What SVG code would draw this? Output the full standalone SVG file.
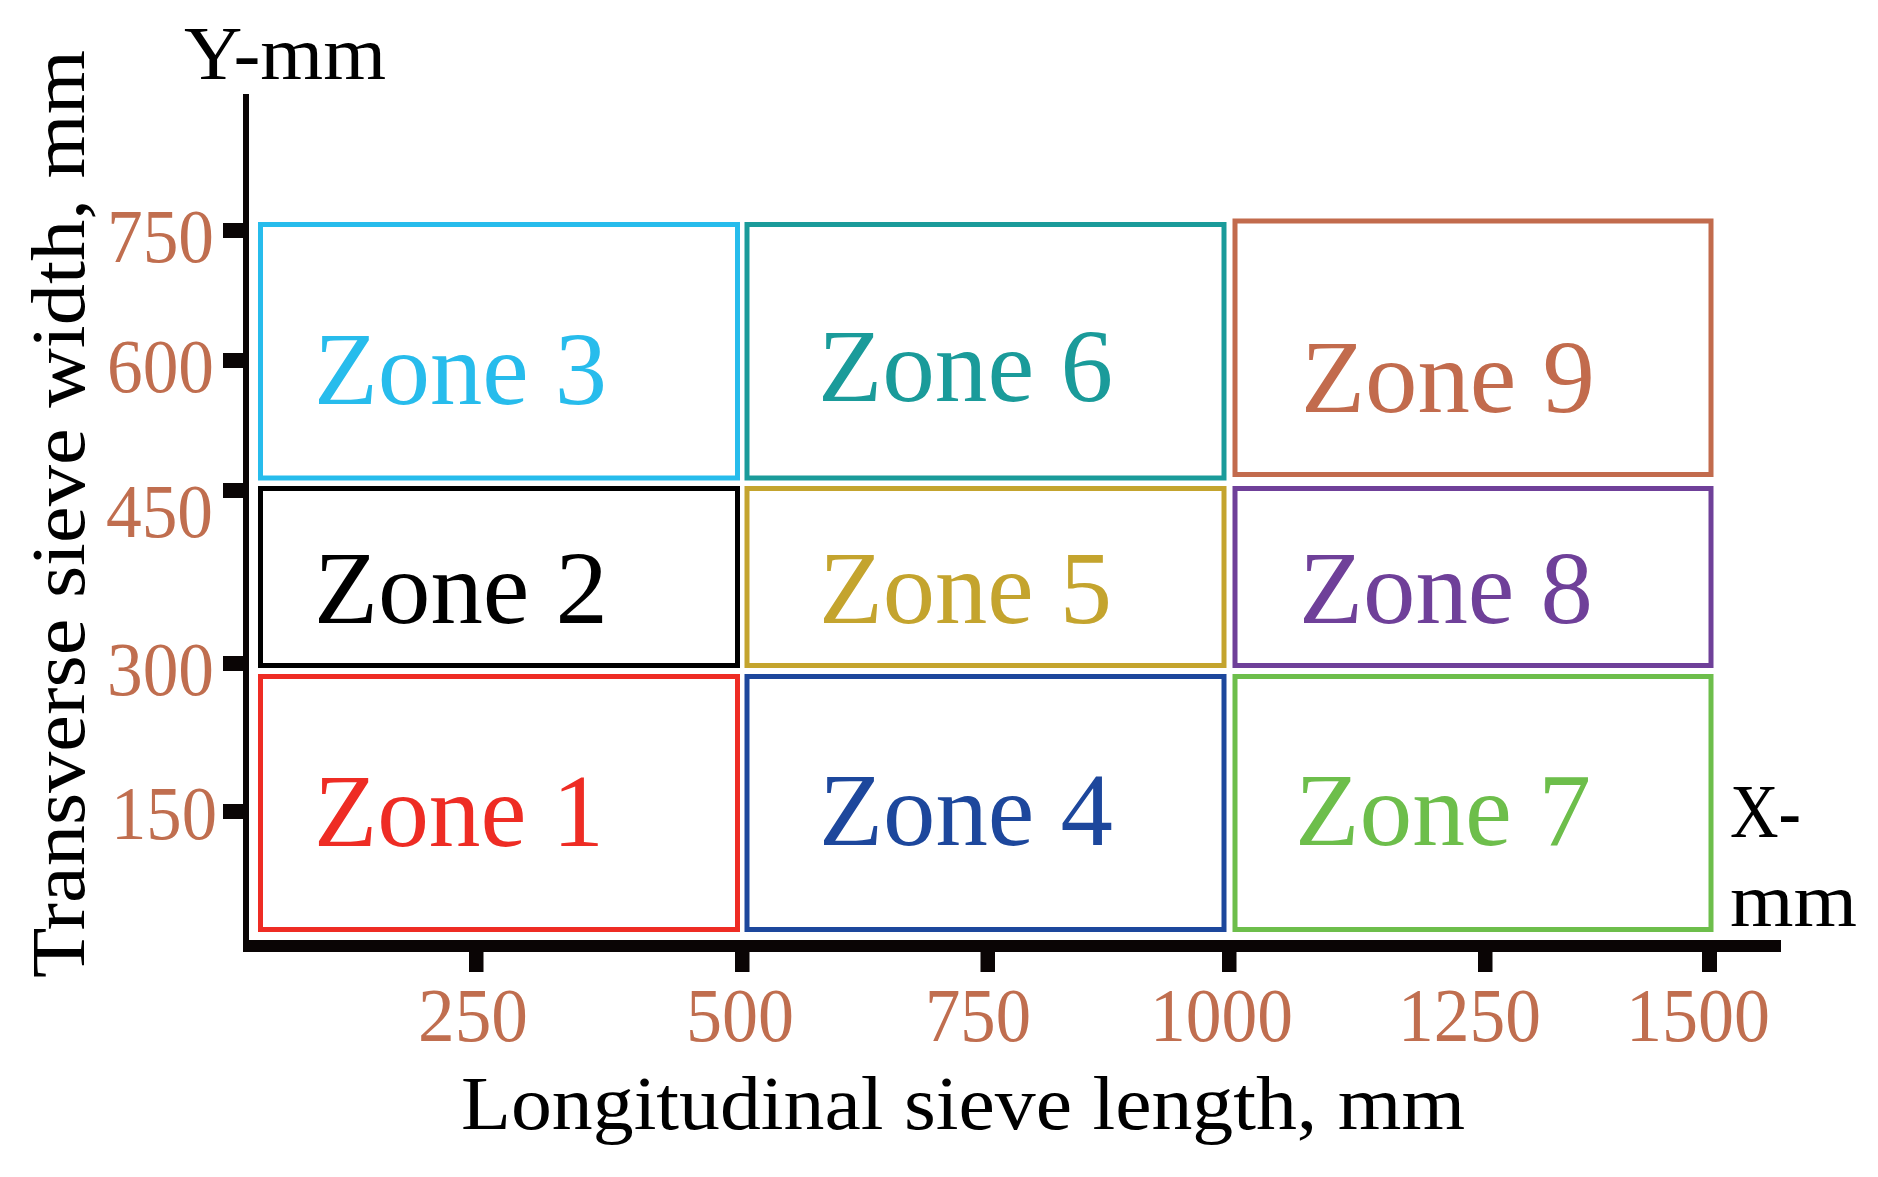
<svg xmlns="http://www.w3.org/2000/svg" width="1878" height="1177" viewBox="0 0 1878 1177">
<style>
text{font-family:"Liberation Serif","Times New Roman",serif}
.zone{fill:none;stroke-width:5}
.zl{font-size:103px}
.tl{font-size:77px;fill:#C06E4F}
.ax{font-size:77px;fill:#000}
.tk{fill:#0a0505}
</style>
<rect width="1878" height="1177" fill="#fff"/>
<g id="axes">
<rect class="tk" x="243" y="94" width="6" height="858"/>
<rect class="tk" x="244" y="940" width="1537" height="12"/>
<rect class="tk" x="223" y="223" width="26" height="15"/>
<rect class="tk" x="223" y="353" width="26" height="15"/>
<rect class="tk" x="223" y="483" width="26" height="15"/>
<rect class="tk" x="223" y="656" width="26" height="15"/>
<rect class="tk" x="223" y="804" width="26" height="15"/>
<rect class="tk" x="469" y="950" width="14.5" height="22"/>
<rect class="tk" x="735" y="950" width="14.5" height="22"/>
<rect class="tk" x="980.5" y="950" width="14.5" height="22"/>
<rect class="tk" x="1222" y="950" width="14.5" height="22"/>
<rect class="tk" x="1478" y="950" width="14.5" height="22"/>
<rect class="tk" x="1702" y="950" width="15" height="22"/>
<text class="tl" x="107" y="262" textLength="107" lengthAdjust="spacingAndGlyphs">750</text>
<text class="tl" x="107" y="392" textLength="107" lengthAdjust="spacingAndGlyphs">600</text>
<text class="tl" x="106" y="537" textLength="107" lengthAdjust="spacingAndGlyphs">450</text>
<text class="tl" x="107" y="695" textLength="107" lengthAdjust="spacingAndGlyphs">300</text>
<text class="tl" x="111" y="839" textLength="106" lengthAdjust="spacingAndGlyphs">150</text>
<text class="tl" x="418" y="1041" textLength="110" lengthAdjust="spacingAndGlyphs">250</text>
<text class="tl" x="686" y="1041" textLength="108" lengthAdjust="spacingAndGlyphs">500</text>
<text class="tl" x="925" y="1041" textLength="106" lengthAdjust="spacingAndGlyphs">750</text>
<text class="tl" x="1150" y="1041" textLength="143" lengthAdjust="spacingAndGlyphs">1000</text>
<text class="tl" x="1398" y="1041" textLength="143" lengthAdjust="spacingAndGlyphs">1250</text>
<text class="tl" x="1626" y="1041" textLength="144" lengthAdjust="spacingAndGlyphs">1500</text>
<text class="ax" x="184" y="79" textLength="202" lengthAdjust="spacingAndGlyphs">Y-mm</text>
<text class="ax" x="1730" y="837" textLength="71" lengthAdjust="spacingAndGlyphs">X-</text>
<text class="ax" x="1730" y="926" textLength="127" lengthAdjust="spacingAndGlyphs">mm</text>
<text class="ax" x="461" y="1129" font-size="76" textLength="1004" lengthAdjust="spacingAndGlyphs">Longitudinal sieve length, mm</text>
<text class="ax" transform="translate(84,978) rotate(-90)" font-size="78" textLength="928" lengthAdjust="spacingAndGlyphs">Transverse sieve width, mm</text>
</g>
<g id="zone1"><rect class="zone" x="260.5" y="676.5" width="477" height="253" stroke="#EE2C24"/><text class="zl" x="314" y="846" fill="#EE2C24" textLength="290" lengthAdjust="spacingAndGlyphs">Zone 1</text></g>
<g id="zone2"><rect class="zone" x="260.5" y="488.5" width="477" height="177" stroke="#000"/><text class="zl" x="314" y="623" fill="#000" textLength="294" lengthAdjust="spacingAndGlyphs">Zone 2</text></g>
<g id="zone3"><rect class="zone" x="260.5" y="224.5" width="477" height="253.5" stroke="#27BCEC"/><text class="zl" x="314" y="404" fill="#27BCEC" textLength="293" lengthAdjust="spacingAndGlyphs">Zone 3</text></g>
<g id="zone4"><rect class="zone" x="747" y="676.5" width="477" height="253" stroke="#1D479C"/><text class="zl" x="819" y="845" fill="#1D479C" textLength="294" lengthAdjust="spacingAndGlyphs">Zone 4</text></g>
<g id="zone5"><rect class="zone" x="747" y="488.5" width="477" height="177" stroke="#C4A42E"/><text class="zl" x="819" y="623" fill="#C4A42E" textLength="293" lengthAdjust="spacingAndGlyphs">Zone 5</text></g>
<g id="zone6"><rect class="zone" x="747" y="224.5" width="477" height="253.5" stroke="#1A9B9A"/><text class="zl" x="818" y="401" fill="#1A9B9A" textLength="295" lengthAdjust="spacingAndGlyphs">Zone 6</text></g>
<g id="zone7"><rect class="zone" x="1235" y="676.5" width="476" height="253" stroke="#6DBE4B"/><text class="zl" x="1295" y="845" fill="#6DBE4B" textLength="296" lengthAdjust="spacingAndGlyphs">Zone 7</text></g>
<g id="zone8"><rect class="zone" x="1235" y="488.5" width="476" height="177" stroke="#6F4099"/><text class="zl" x="1299" y="623" fill="#6F4099" textLength="294" lengthAdjust="spacingAndGlyphs">Zone 8</text></g>
<g id="zone9"><rect class="zone" x="1235" y="221" width="476" height="253.5" stroke="#C26B4D" stroke-width="6"/><text class="zl" x="1301" y="412" fill="#C26B4D" textLength="294" lengthAdjust="spacingAndGlyphs">Zone 9</text></g>
<g id="connectors"></g>
</svg>
